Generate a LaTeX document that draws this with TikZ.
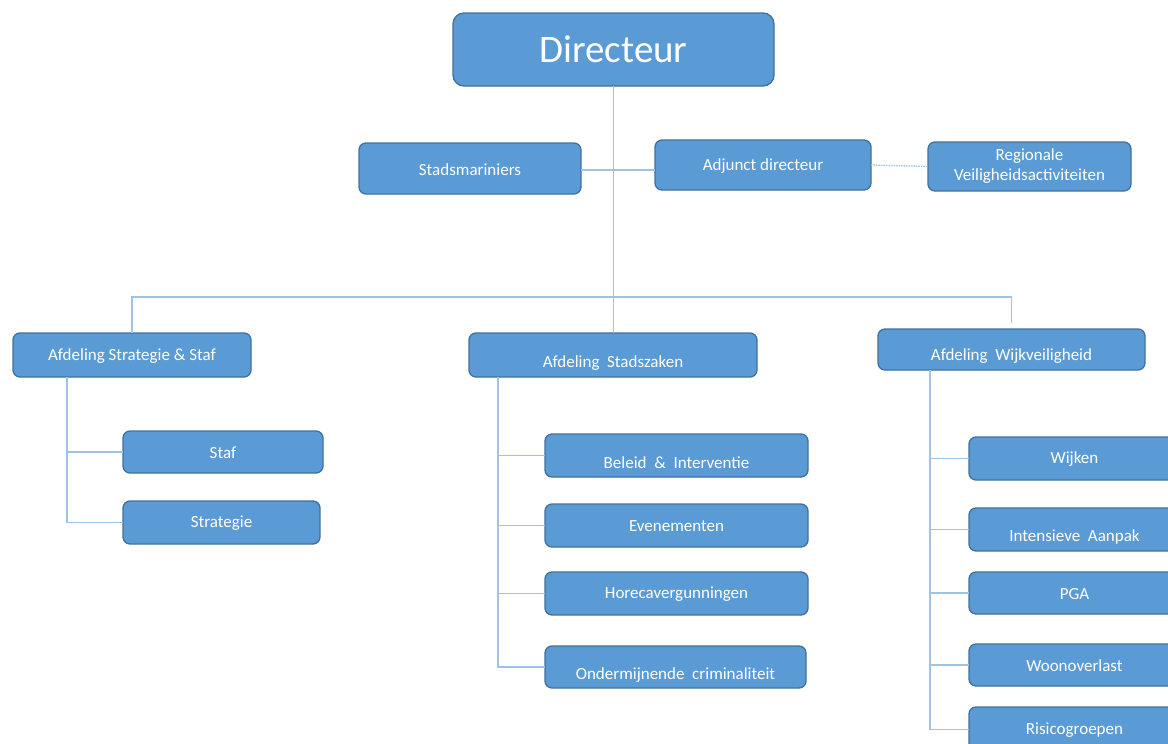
\documentclass[tikz,border=0pt]{standalone}
\usepackage{fontspec}
\setmainfont{Carlito}
\definecolor{boxfill}{HTML}{5B9BD5}
\definecolor{boxline}{HTML}{41719C}
\definecolor{connc}{HTML}{9DC3E6}
\tikzset{
  orgbox/.style={draw=boxline, fill=boxfill, line width=1.3pt, rounded corners=7pt,
    text=white, font=\fontsize{17}{20}\selectfont, inner sep=0pt, outer sep=0pt,
    anchor=north west, align=center},
  conn/.style={draw=connc, line width=1.3pt},
  dotconn/.style={draw=connc, line width=1.3pt, dash pattern=on 1.5pt off 1pt},
}
\newcommand{\lowr}[2]{\raisebox{-#1}[\height][\depth]{#2}}
\begin{document}
\begin{tikzpicture}[x=1pt,y=-1pt]
\clip (0,0) rectangle (1168,744);
\fill[white] (0,0) rectangle (1168,744);
% top
\node[orgbox, rounded corners=11pt, font=\fontsize{39}{46}\selectfont, minimum width=321pt, minimum height=73pt] (dir) at (453,13) {Directeur};
\node[orgbox, minimum width=222pt, minimum height=51pt] (smar) at (359,143) {\lowr{1pt}{Stadsmariniers}};
\node[orgbox, minimum width=216pt, minimum height=50pt] (adj) at (655,140) {\lowr{1pt}{Adjunct directeur}};
\node[orgbox, minimum width=203pt, minimum height=49pt] (reg) at (928,142) {Regionale\\Veiligheidsactiviteiten};
% departments
\node[orgbox, minimum width=238pt, minimum height=44pt] (ass) at (13,333) {\lowr{1pt}{Afdeling Strategie \& Staf}};
\node[orgbox, minimum width=288pt, minimum height=44pt] (ast) at (469,333) {\lowr{8pt}{Afdeling\ \ Stadszaken}};
\node[orgbox, minimum width=267pt, minimum height=41pt] (awk) at (878,329) {\lowr{7pt}{Afdeling\ \ Wijkveiligheid}};
% left column
\node[orgbox, minimum width=200pt, minimum height=42pt] (staf) at (123,431) {\lowr{1pt}{Staf}};
\node[orgbox, minimum width=197pt, minimum height=43pt] (strat) at (123,501) {\lowr{1pt}{Strategie}};
% middle column
\node[orgbox, minimum width=263pt, minimum height=43pt] (bel) at (545,434) {\lowr{7pt}{Beleid\ \ \&\ \ Interventie}};
\node[orgbox, minimum width=263pt, minimum height=43pt] (eve) at (545,504) {\lowr{1pt}{Evenementen}};
\node[orgbox, minimum width=263pt, minimum height=43pt] (hor) at (545,572) {\lowr{1pt}{Horecavergunningen}};
\node[orgbox, minimum width=261pt, minimum height=42pt] (ond) at (545,646) {\lowr{8pt}{Ondermijnende\ \ criminaliteit}};
% right column
\node[orgbox, minimum width=211pt, minimum height=43pt] (wij) at (969,437) {\lowr{1pt}{Wijken}};
\node[orgbox, minimum width=211pt, minimum height=43pt] (int) at (969,508) {\lowr{7pt}{Intensieve\ \ Aanpak}};
\node[orgbox, minimum width=211pt, minimum height=42pt] (pga) at (969,572) {\lowr{1pt}{PGA}};
\node[orgbox, minimum width=211pt, minimum height=42pt] (woo) at (969,644) {\lowr{1pt}{Woonoverlast}};
\node[orgbox, minimum width=211pt, minimum height=45pt] (ris) at (969,707) {\lowr{1pt}{Risicogroepen}};
% connectors
\draw[conn] (dir.south) -- (dir.south |- ast.north);
\draw[conn] ([yshift=-1.5pt]smar.east) -- ([yshift=-1.5pt]smar.east -| adj.west);
\draw[dotconn] (adj.east) -- (reg.west);
\draw[conn] (ass.north) -- (ass.north |- 0,297) coordinate (barl) -- (awk.north |- 0,297) coordinate (barr) -- ([yshift=6pt]awk.north);
\draw[conn] ([xshift=54pt]ass.south west) coordinate (ls) |- (strat.west);
\draw[conn] (staf.west) -- (staf.west -| ls);
\draw[conn] ([xshift=29pt]ast.south west) coordinate (ms) |- (ond.west);
\draw[conn] (bel.west) -- (bel.west -| ms);
\draw[conn] (eve.west) -- (eve.west -| ms);
\draw[conn] (hor.west) -- (hor.west -| ms);
\draw[conn] ([xshift=52pt]awk.south west) coordinate (rs) |- (ris.west);
\draw[conn] (wij.west) -- (wij.west -| rs);
\draw[conn] (int.west) -- (int.west -| rs);
\draw[conn] (pga.west) -- (pga.west -| rs);
\draw[conn] (woo.west) -- (woo.west -| rs);
\end{tikzpicture}
\end{document}
